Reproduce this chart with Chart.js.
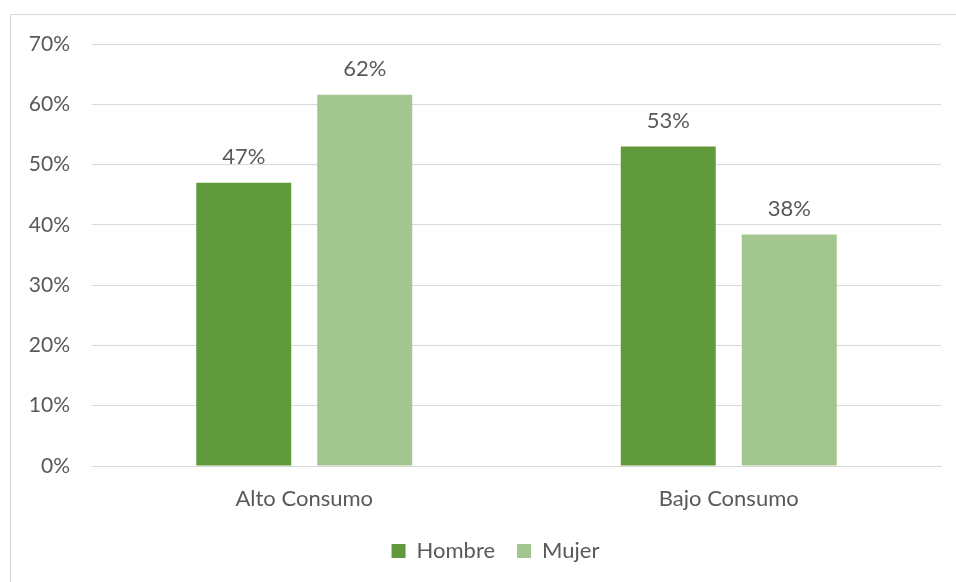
<!DOCTYPE html>
<html>
<head>
<meta charset="utf-8">
<script src="https://cdn.jsdelivr.net/npm/chart.js@4/dist/chart.umd.min.js"></script>
<style>
html,body{margin:0;padding:0;background:#fff;}
#wrap{position:relative;width:956px;height:582px;overflow:hidden;}
#frame{position:absolute;left:10px;top:14px;width:960px;height:600px;border:1px solid #d9d9d9;box-sizing:border-box;pointer-events:none;}
canvas{position:absolute;left:0;top:0;}
</style>
</head>
<body>
<div id="wrap">
<canvas id="c" width="956" height="582"></canvas>
<div id="frame"></div>
</div>
<script>
const categories = ["Alto Consumo", "Bajo Consumo"];
const hombre = [47, 53];
const mujer = [61.6, 38.4];
const seriesNames = ["Hombre", "Mujer"];
const yTicks = [0, 10, 20, 30, 40, 50, 60, 70];

const FONT = "Lato, 'Open Sans', sans-serif";
const TXT = "#595959";
const FS = 22;

const labelPlugin = {
  id: "barLabels",
  afterDatasetsDraw(chart) {
    const ctx = chart.ctx;
    ctx.save();
    ctx.font = FS + "px " + FONT;
    ctx.fillStyle = TXT;
    ctx.textAlign = "center";
    ctx.textBaseline = "middle";
    chart.data.datasets.forEach((ds, i) => {
      chart.getDatasetMeta(i).data.forEach((bar, j) => {
        ctx.fillText(Math.round(ds.data[j]) + "%", bar.x, bar.y - 26);
      });
    });
    ctx.restore();
  }
};

const legendShift = {
  id: "legendShift",
  afterLayout(chart) {
    if (chart.legend) { chart.legend.left += 20; chart.legend.right += 20; }
  }
};

new Chart(document.getElementById("c"), {
  type: "bar",
  data: {
    labels: categories,
    datasets: [
      { label: seriesNames[0], data: hombre, backgroundColor: "#619a3d" },
      { label: seriesNames[1], data: mujer, backgroundColor: "#a3c58f" }
    ]
  },
  options: {
    responsive: false,
    animation: false,
    devicePixelRatio: 1,
    layout: { padding: { left: 10, right: 15, top: 44, bottom: 10 } },
    datasets: { bar: { categoryPercentage: 0.57, barPercentage: 0.785 } },
    scales: {
      x: {
        grid: { display: false },
        border: { display: true, color: "#d9d9d9", width: 1 },
        ticks: { color: TXT, font: { family: FONT, size: FS }, padding: 12 },
        afterFit(s) { s.height = 52; }
      },
      y: {
        min: 0, max: 70,
        afterBuildTicks(s) { s.ticks = yTicks.map(v => ({ value: v })); },
        grid: { color: "#d9d9d9", lineWidth: 1, drawTicks: false },
        border: { display: false },
        ticks: { color: TXT, font: { family: FONT, size: FS - 1 }, padding: 22, callback: v => v + "%" },
        afterFit(s) { s.width = 82; }
      }
    },
    plugins: {
      legend: {
        position: "bottom",
        labels: { color: TXT, font: { family: FONT, size: FS }, boxWidth: 14, boxHeight: 14, padding: 22 }
      },
      tooltip: { enabled: false }
    }
  },
  plugins: [labelPlugin, legendShift]
});
</script>
</body>
</html>
